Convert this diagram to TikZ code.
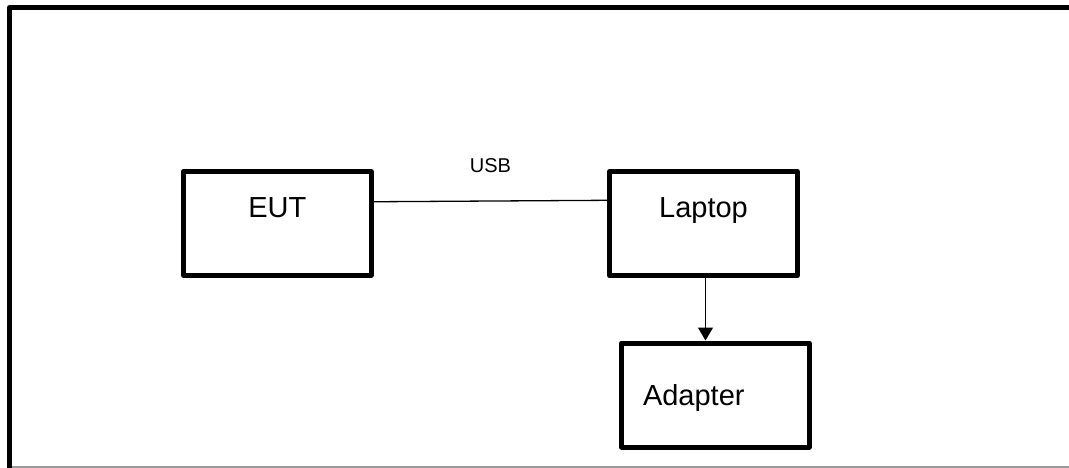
\documentclass[tikz,border=0pt]{standalone}
\usepackage{fontspec}
\setmainfont{Liberation Sans}
\usetikzlibrary{arrows.meta,positioning}

\begin{document}
\begin{tikzpicture}[x=1pt, y=-1pt,
  box/.style={draw, line width=5pt, line join=round, minimum width=187.5pt,
              minimum height=104pt, inner sep=0pt, font=\fontsize{29}{34}\selectfont},
  toplabel/.style={box, text height=21pt, text depth=33pt},
  leftlabel/.style={box, text height=21pt, text depth=0pt, align=left,
                    text width=144.5pt, inner xsep=21.5pt},
  link/.style={line width=1.3pt},
  frame/.style={line width=5pt, line join=round},
]
\useasboundingbox (0,0) rectangle (1069,468);

% Outer frame (open on the right)
\draw[frame] (1069,7.5) -- (9.5,7.5) -- (9.5,468);
\draw[black!40, line width=1.3pt] (12,467) -- (1069,467);

% Equipment
\node[toplabel] (eut) at (277.25,223.25) {EUT};
\node[toplabel] (laptop) at (703.5,223.7) {Laptop};
\node[leftlabel] (adapter) at (715.25,395) {Adapter};

% Cable between EUT and laptop
\draw[link] ([yshift=21.5pt]eut.east) -- ([yshift=23.4pt]laptop.west)
  node[midway, above=24pt, font=\fontsize{20}{24}\selectfont] (usb) {USB};

% Power adapter
\draw[link, -{Triangle[length=13pt, width=15pt]}]
  ([xshift=2pt]laptop.south) -- ([xshift=2pt]laptop.south |- adapter.north);

\end{tikzpicture}
\end{document}
